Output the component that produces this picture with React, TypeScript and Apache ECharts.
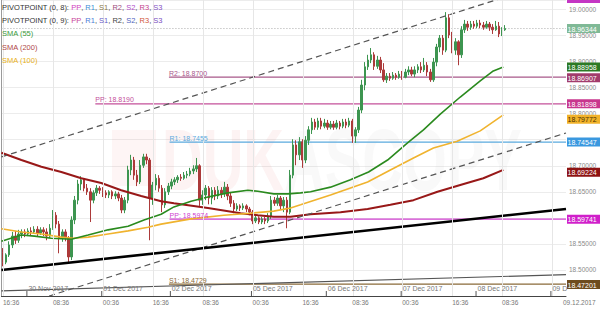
import React, { useEffect, useRef } from "react";
import * as echarts from "echarts";

const FONT = '"Liberation Sans", Arial, sans-serif';

// hourly slots on the (weekend-compressed) time axis
const SLOT_COUNT = 181;
const TIME_LABELS = ["16:36", "08:36", "00:36", "16:36", "08:36", "00:36", "16:36", "08:36", "00:36", "16:36", "08:36"];
const DATE_HOURS = [8, 32, 54, 80, 104, 128, 152, 176];
const DATE_TEXTS = ["30 Nov 2017", "01 Dec 2017", "02 Dec 2017", "05 Dec 2017", "06 Dec 2017", "07 Dec 2017", "08 Dec 2017", "09 D"];
const GRID_HOURS = [0.64, 16.64, 32.64, 48.64, 64.64, 80.64, 96.64, 112.64, 128.64, 144.64, 160.64, 176.64];
const HIDDEN_Y = ["18.75", "18.60", "18.45"];

// [open, close, low, high]
const CANDLES: number[][] = [
  [18.534, 18.515, 18.507, 18.542], [18.515, 18.529, 18.511, 18.532], [18.529, 18.548, 18.525, 18.555], [18.548, 18.565, 18.542, 18.573],
  [18.565, 18.557, 18.550, 18.575], [18.557, 18.569, 18.552, 18.577], [18.569, 18.573, 18.561, 18.578], [18.573, 18.569, 18.563, 18.578],
  [18.569, 18.575, 18.565, 18.580], [18.575, 18.573, 18.567, 18.582], [18.573, 18.578, 18.569, 18.584], [18.578, 18.571, 18.565, 18.584],
  [18.571, 18.577, 18.567, 18.582], [18.577, 18.573, 18.565, 18.582], [18.573, 18.565, 18.557, 18.580], [18.565, 18.580, 18.561, 18.588],
  [18.580, 18.605, 18.577, 18.615], [18.605, 18.588, 18.580, 18.611], [18.588, 18.561, 18.532, 18.594], [18.561, 18.573, 18.554, 18.578],
  [18.573, 18.561, 18.555, 18.578], [18.561, 18.525, 18.515, 18.565], [18.525, 18.596, 18.519, 18.603], [18.596, 18.634, 18.588, 18.642],
  [18.634, 18.665, 18.626, 18.673], [18.665, 18.673, 18.653, 18.680], [18.673, 18.657, 18.651, 18.676], [18.657, 18.650, 18.644, 18.665],
  [18.650, 18.634, 18.592, 18.657], [18.634, 18.648, 18.628, 18.653], [18.648, 18.657, 18.642, 18.663], [18.657, 18.653, 18.646, 18.661],
  [18.653, 18.648, 18.640, 18.659], [18.648, 18.644, 18.638, 18.653], [18.644, 18.650, 18.638, 18.653], [18.650, 18.642, 18.636, 18.653],
  [18.642, 18.646, 18.636, 18.651], [18.646, 18.638, 18.632, 18.650], [18.638, 18.615, 18.609, 18.644], [18.615, 18.634, 18.609, 18.640],
  [18.634, 18.692, 18.628, 18.700], [18.692, 18.711, 18.682, 18.721], [18.711, 18.682, 18.673, 18.717], [18.682, 18.669, 18.661, 18.692],
  [18.669, 18.701, 18.665, 18.711], [18.701, 18.717, 18.696, 18.723], [18.717, 18.711, 18.703, 18.723], [18.711, 18.638, 18.557, 18.715],
  [18.638, 18.663, 18.625, 18.669], [18.663, 18.676, 18.653, 18.684], [18.676, 18.657, 18.650, 18.682], [18.657, 18.625, 18.611, 18.663],
  [18.625, 18.650, 18.619, 18.657], [18.650, 18.661, 18.644, 18.667], [18.661, 18.669, 18.655, 18.675], [18.669, 18.673, 18.663, 18.678],
  [18.673, 18.678, 18.667, 18.682], [18.678, 18.676, 18.671, 18.684], [18.676, 18.682, 18.673, 18.688], [18.682, 18.684, 18.676, 18.690],
  [18.684, 18.690, 18.680, 18.696], [18.690, 18.694, 18.684, 18.701], [18.694, 18.700, 18.688, 18.715], [18.700, 18.634, 18.623, 18.703],
  [18.634, 18.644, 18.625, 18.653], [18.644, 18.657, 18.634, 18.663], [18.657, 18.638, 18.626, 18.661], [18.638, 18.653, 18.626, 18.659],
  [18.653, 18.642, 18.634, 18.659], [18.642, 18.653, 18.636, 18.661], [18.653, 18.646, 18.638, 18.659], [18.646, 18.659, 18.640, 18.669],
  [18.659, 18.642, 18.634, 18.665], [18.642, 18.628, 18.621, 18.648], [18.628, 18.617, 18.609, 18.634], [18.617, 18.623, 18.613, 18.628],
  [18.623, 18.619, 18.613, 18.626], [18.619, 18.623, 18.615, 18.628], [18.623, 18.617, 18.611, 18.626], [18.617, 18.611, 18.605, 18.621],
  [18.611, 18.594, 18.588, 18.615], [18.594, 18.600, 18.590, 18.605], [18.600, 18.592, 18.588, 18.603], [18.592, 18.598, 18.588, 18.602],
  [18.598, 18.594, 18.588, 18.602], [18.594, 18.603, 18.590, 18.609], [18.603, 18.634, 18.598, 18.642], [18.634, 18.628, 18.623, 18.640],
  [18.628, 18.638, 18.623, 18.644], [18.638, 18.623, 18.615, 18.642], [18.623, 18.634, 18.611, 18.640], [18.634, 18.611, 18.580, 18.640],
  [18.611, 18.682, 18.607, 18.692], [18.682, 18.740, 18.676, 18.751], [18.740, 18.721, 18.701, 18.749], [18.721, 18.746, 18.711, 18.755],
  [18.746, 18.711, 18.696, 18.751], [18.711, 18.749, 18.705, 18.757], [18.749, 18.769, 18.740, 18.776], [18.769, 18.784, 18.761, 18.792],
  [18.784, 18.774, 18.769, 18.790], [18.774, 18.786, 18.769, 18.792], [18.786, 18.776, 18.770, 18.792], [18.776, 18.782, 18.772, 18.790],
  [18.782, 18.774, 18.769, 18.788], [18.774, 18.780, 18.770, 18.786], [18.780, 18.774, 18.769, 18.786], [18.774, 18.782, 18.770, 18.788],
  [18.782, 18.776, 18.770, 18.786], [18.776, 18.784, 18.772, 18.790], [18.784, 18.778, 18.772, 18.790], [18.778, 18.786, 18.774, 18.792],
  [18.786, 18.757, 18.744, 18.790], [18.757, 18.769, 18.744, 18.774], [18.769, 18.807, 18.763, 18.813], [18.807, 18.855, 18.801, 18.865],
  [18.855, 18.890, 18.845, 18.899], [18.890, 18.903, 18.884, 18.913], [18.903, 18.913, 18.897, 18.926], [18.913, 18.891, 18.884, 18.918],
  [18.891, 18.903, 18.886, 18.911], [18.903, 18.884, 18.878, 18.909], [18.884, 18.865, 18.861, 18.897], [18.865, 18.872, 18.859, 18.878],
  [18.872, 18.868, 18.863, 18.878], [18.868, 18.874, 18.865, 18.880], [18.874, 18.870, 18.865, 18.878], [18.870, 18.876, 18.867, 18.882],
  [18.876, 18.870, 18.865, 18.882], [18.870, 18.880, 18.868, 18.886], [18.880, 18.884, 18.874, 18.891], [18.884, 18.876, 18.872, 18.890],
  [18.876, 18.884, 18.870, 18.891], [18.884, 18.890, 18.878, 18.895], [18.890, 18.884, 18.878, 18.899], [18.884, 18.893, 18.880, 18.907],
  [18.893, 18.880, 18.872, 18.899], [18.880, 18.865, 18.861, 18.886], [18.865, 18.899, 18.861, 18.907], [18.899, 18.928, 18.891, 18.934],
  [18.928, 18.945, 18.918, 18.951], [18.945, 18.922, 18.913, 18.951], [18.922, 18.984, 18.918, 18.995], [18.984, 18.951, 18.945, 18.991],
  [18.951, 18.922, 18.916, 18.957], [18.922, 18.938, 18.913, 18.945], [18.938, 18.913, 18.893, 18.941], [18.913, 18.961, 18.907, 18.968],
  [18.961, 18.972, 18.955, 18.980], [18.972, 18.966, 18.959, 18.978], [18.966, 18.972, 18.961, 18.978], [18.972, 18.968, 18.963, 18.978],
  [18.968, 18.974, 18.964, 18.980], [18.974, 18.970, 18.964, 18.980], [18.970, 18.966, 18.961, 18.976], [18.966, 18.972, 18.963, 18.978],
  [18.972, 18.966, 18.959, 18.976], [18.966, 18.961, 18.953, 18.972], [18.961, 18.968, 18.959, 18.978], [18.968, 18.953, 18.947, 18.976],
  [18.953, 18.961, 18.949, 18.966], [18.961, 18.9634, 18.959, 18.970],
];

// moving averages: [hour, value]
const SMA55: number[][] = [
  [0, 18.555], [6.4, 18.567], [10.6, 18.565], [16, 18.561], [22.4, 18.559], [27.8, 18.567], [34.2, 18.577], [40.6, 18.584],
  [45.7, 18.596], [51.2, 18.607], [55.3, 18.621], [60.8, 18.632], [66.2, 18.640], [72.6, 18.648], [79, 18.653], [82.2, 18.651],
  [87.3, 18.646], [91.8, 18.646], [95.9, 18.648], [99.1, 18.650], [105.5, 18.659], [111.9, 18.673], [117.7, 18.688], [123.8, 18.711],
  [130.2, 18.744], [135.3, 18.769], [140.7, 18.799], [147.1, 18.832], [153.5, 18.863], [157.7, 18.882], [160.9, 18.8896],
];
const SMA100: number[][] = [
  [0, 18.579], [6.4, 18.573], [12.8, 18.569], [19.2, 18.563], [23, 18.561], [27.8, 18.563], [34.2, 18.569], [40.6, 18.575],
  [47, 18.582], [51.2, 18.588], [60.8, 18.598], [71.3, 18.605], [79.9, 18.609], [87.3, 18.613], [92.7, 18.619], [95.9, 18.625],
  [105.5, 18.644], [117.4, 18.669], [124.7, 18.692], [132.1, 18.715], [138.5, 18.734], [146.1, 18.747], [153.5, 18.767], [160.9, 18.7977],
];
const SMA200: number[][] = [
  [0, 18.725], [6.4, 18.711], [12.8, 18.698], [19.2, 18.688], [25.6, 18.676], [32, 18.667], [38.4, 18.653], [44.8, 18.642],
  [51.2, 18.632], [55.3, 18.628], [66.2, 18.619], [76.7, 18.609], [82.2, 18.605], [87.3, 18.602], [92.7, 18.602], [99.1, 18.607],
  [108.7, 18.611], [117.4, 18.617], [124.7, 18.625], [132.1, 18.634], [139.8, 18.650], [147.1, 18.663], [154.5, 18.676], [160.9, 18.6922],
];

// trend lines: [hour, value] end points
const TREND_BLACK = [[0, 18.5], [181, 18.617]];
const TREND_UPPER = [[0, 18.717], [181, 19.061]];
const TREND_LOWER = [[0, 18.421], [181, 18.763]];
const TREND_GRAY = [[0, 18.46], [181, 18.491]];

const LAST_PRICE = 18.96344;

// pivot levels
const PIVOT_NAMES = ["R2: 18.8700", "PP: 18.8190", "R1: 18.7455", "PP: 18.5974", "S1: 18.4729"];
const PIVOT_VALUES = [18.87, 18.819, 18.7455, 18.5974, 18.4729];
const PIVOT_START = [53.7, 30.1, 53.9, 53.9, 53.7];
const PIVOT_COLORS = ["#a8588a", "#c4509a", "#5aaade", "#d040d0", "#8a6a38"];

// price tags on the right axis
const TAG_VALUES = [18.96344, 18.88958, 18.86907, 18.81898, 18.79772, 18.74547, 18.69224, 18.59741, 18.47201];
const TAG_COLORS = ["#7fb996", "#2c7a25", "#a23c6c", "#c8368e", "#f1b22a", "#3a98df", "#8d1212", "#d01fca", "#6e4c1e"];
const TAG_TEXT = ["#ffffff", "#ffffff", "#ffffff", "#ffffff", "#4a3000", "#ffffff", "#ffffff", "#ffffff", "#ffffff"];
const TAG_SHIFT = [0, 0, 0, 0, 4.5, 0, 2.5, 0, 0];

const GREEN = "#3d9550";
const RED = "#ac3a3a";

export default function App() {
  const ref = useRef<HTMLDivElement>(null);

  useEffect(() => {
    if (!ref.current) return;
    const chart = echarts.init(ref.current, null, { renderer: "svg" });
    const categories = Array.from({ length: SLOT_COUNT }, (_, i) => "h" + i);

    const lineSeries = (data: number[][], color: string, width: number, type: any = "solid", z = 3) => ({
      type: "line",
      xAxisIndex: 1,
      yAxisIndex: 0,
      data,
      showSymbol: false,
      symbol: "none",
      silent: true,
      z,
      lineStyle: { color, width, type },
    });

    const option: any = {
      animation: false,
      backgroundColor: "#ffffff",
      grid: { left: 0, right: 34, top: 0, bottom: 24, containLabel: false },
      xAxis: [
        {
          type: "category",
          data: categories,
          boundaryGap: true,
          axisLine: { show: true, lineStyle: { color: "#444", width: 1 } },
          axisTick: { show: false },
          splitLine: { show: false },
          axisLabel: {
            interval: (i: number) => i % 16 === 0 && i < 176,
            formatter: (_v: string, i: number) => TIME_LABELS[i / 16] ?? "",
            align: "left",
            fontSize: 6.5,
            fontFamily: FONT,
            color: "#777",
            margin: 3,
            hideOverlap: false,
          },
        },
        { type: "value", min: 0, max: SLOT_COUNT, show: false },
      ],
      yAxis: {
        type: "value",
        position: "right",
        min: 18.45,
        max: 19.01823,
        interval: 0.05,
        axisLine: { show: true, lineStyle: { color: "#9a9a9a" } },
        axisTick: { show: false },
        axisLabel: {
          fontSize: 6.5,
          fontFamily: FONT,
          color: "#8a8a8a",
          margin: 3,
          showMinLabel: false,
          showMaxLabel: false,
          formatter: (v: number) => (HIDDEN_Y.includes(v.toFixed(2)) ? "" : v.toFixed(5)),
        },
        splitLine: { show: true, lineStyle: { color: "#ececec", width: 1 } },
      },
      series: [
        {
          type: "line",
          xAxisIndex: 1,
          data: [],
          silent: true,
          markLine: {
            silent: true,
            symbol: "none",
            label: { show: false },
            lineStyle: { color: "#e6e6e6", width: 1, type: "solid" },
            data: GRID_HOURS.map((h) => ({ xAxis: h })),
          },
          z: 0,
        },
        ...PIVOT_VALUES.map((v, k) =>
          lineSeries([[PIVOT_START[k], v], [SLOT_COUNT, v]], PIVOT_COLORS[k], 1.2, "solid", 1)
        ),
        lineSeries([[0, LAST_PRICE], [SLOT_COUNT, LAST_PRICE]], "#aaaaaa", 1, [1, 2], 1),
        {
          type: "candlestick",
          xAxisIndex: 0,
          yAxisIndex: 0,
          data: CANDLES,
          barWidth: 2,
          silent: true,
          z: 2,
          itemStyle: { color: GREEN, color0: RED, borderColor: GREEN, borderColor0: RED, borderWidth: 1 },
        },
        lineSeries(SMA200, "#981818", 2),
        lineSeries(SMA100, "#f0b32e", 1.6),
        lineSeries(SMA55, "#2a8a1e", 1.6),
        lineSeries(TREND_UPPER, "#555555", 1.2, [6, 4]),
        lineSeries(TREND_LOWER, "#555555", 1.2, [6, 4]),
        lineSeries(TREND_GRAY, "#555555", 1.2),
        lineSeries(TREND_BLACK, "#000000", 2.6),
      ],
    };
    chart.setOption(option);

    const X = (h: number) => chart.convertToPixel({ xAxisIndex: 1 }, h) as number;
    const Y = (v: number) => chart.convertToPixel({ yAxisIndex: 0 }, v) as number;
    const right = X(SLOT_COUNT);
    const bottom = Y(18.45);

    const txt = (x: number, y: number, text: string, fill: string, size: number, z = 50, align = "left") => ({
      type: "text",
      x,
      y,
      z,
      silent: true,
      style: {
        text,
        fill,
        font: `${size}px ${FONT}`,
        align,
        textAlign: align,
        verticalAlign: "middle",
        textVerticalAlign: "middle",
      },
    });

    const graphics: any[] = [];

    // watermark
    graphics.push({
      type: "rect",
      z: 0,
      silent: true,
      shape: { x: 112, y: 130, width: 44, height: 56 },
      style: { fill: "rgba(230,90,90,0.06)" },
    });
    graphics.push({
      type: "text",
      x: 162,
      y: 160,
      z: 0,
      silent: true,
      scaleX: 0.64,
      style: {
        text: "{a|DUK}{b|ASCOPY}",
        font: `bold 88px ${FONT}`,
        verticalAlign: "middle",
        textVerticalAlign: "middle",
        rich: {
          a: { fill: "rgba(230,90,90,0.07)", font: `bold 88px ${FONT}` },
          b: { fill: "rgba(150,150,150,0.06)", font: `bold 88px ${FONT}` },
        },
      },
    });

    // legend
    const rich = (colors: Record<string, string>) => {
      const r: any = {};
      Object.keys(colors).forEach((k) => (r[k] = { fill: colors[k], font: `7.5px ${FONT}` }));
      return r;
    };
    graphics.push({
      type: "text",
      x: 2,
      y: 7,
      z: 60,
      silent: true,
      style: {
        text: "{d|PIVOTPOINT (0, 8): }{a|PP}{d|, }{b|R1}{d|, }{c|S1}{d|, }{e|R2}{d|, }{f|S2}{d|, }{g|R3}{d|, }{h|S3}",
        verticalAlign: "middle",
        textVerticalAlign: "middle",
        rich: rich({ d: "#333333", a: "#d03cc0", b: "#3c8fd6", c: "#8a7a48", e: "#a04c7e", f: "#b04cc8", g: "#c4428e", h: "#8452c4" }),
      },
    });
    graphics.push({
      type: "text",
      x: 2,
      y: 20,
      z: 60,
      silent: true,
      style: {
        text: "{d|PIVOTPOINT (0, 9): }{a|PP}{d|, }{b|R1}{d|, }{c|S1}{d|, }{e|R2}{d|, }{f|S2}{d|, }{g|R3}{d|, }{h|S3}",
        verticalAlign: "middle",
        textVerticalAlign: "middle",
        rich: rich({ d: "#333333", a: "#c8449a", b: "#4a7ed8", c: "#6a5ec8", e: "#444444", f: "#5064c0", g: "#d0553a", h: "#7a4ec0" }),
      },
    });
    graphics.push(txt(2, 33.5, "SMA (55)", "#3a9a3a", 7.5, 60));
    graphics.push(txt(2, 47, "SMA (200)", "#b04848", 7.5, 60));
    graphics.push(txt(2, 60, "SMA (100)", "#e8b020", 7.5, 60));

    // pivot labels
    PIVOT_NAMES.forEach((name, k) => {
      graphics.push(txt(X(PIVOT_START[k]), Y(PIVOT_VALUES[k]) - 4, name, PIVOT_COLORS[k], 7, 50));
    });

    // date markers
    DATE_HOURS.forEach((h, k) => {
      const x = X(h);
      graphics.push({
        type: "line",
        z: 40,
        silent: true,
        shape: { x1: x + 0.5, y1: bottom - 5, x2: x + 0.5, y2: bottom },
        style: { stroke: "#555", lineWidth: 1 },
      });
      graphics.push(txt(x + 2, bottom - 8, DATE_TEXTS[k], "#777777", 7, 50));
    });
    graphics.push(txt(563, bottom + 6.5, "09.12.2017", "#777777", 6.5, 50));

    // price tags
    graphics.push({
      type: "rect",
      z: 70,
      silent: true,
      shape: { x: right + 1, y: -7, width: 33, height: 10 },
      style: { fill: "#c436c4" },
    });
    TAG_VALUES.forEach((v, k) => {
      const cy = Y(v) + TAG_SHIFT[k];
      graphics.push({
        type: "rect",
        z: 70,
        silent: true,
        shape: { x: right + 1, y: cy - 4.5, width: 33, height: 9 },
        style: { fill: TAG_COLORS[k] },
      });
      graphics.push(txt(right + 1.5, cy + 0.5, v.toFixed(5), TAG_TEXT[k], 7, 80));
    });

    chart.setOption({ graphic: graphics });

    return () => chart.dispose();
  }, []);

  return (
    <div
      ref={ref}
      style={{ position: "fixed", left: 0, top: 0, width: 600, height: 320, background: "#fff" }}
    />
  );
}
